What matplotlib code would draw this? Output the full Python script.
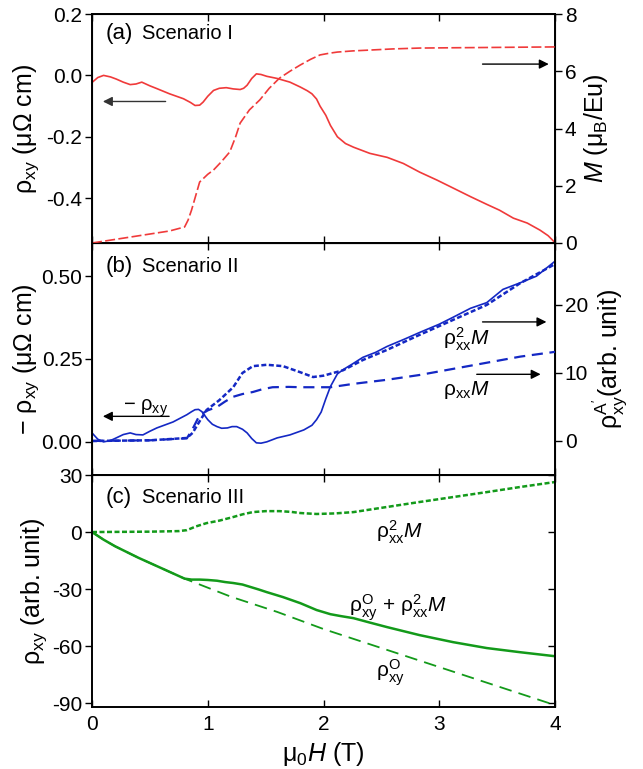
import matplotlib
matplotlib.use('Agg')
import matplotlib.pyplot as plt
import numpy as np

plt.rcParams['font.family'] = ['Liberation Sans', 'DejaVu Sans']
plt.rcParams['mathtext.fontset'] = 'custom'
plt.rcParams['mathtext.rm'] = 'Liberation Sans'
plt.rcParams['mathtext.it'] = 'Liberation Sans:italic'
plt.rcParams['axes.unicode_minus'] = False
plt.rcParams['font.size'] = 15

RED = '#f03a3a'
BLUE = '#1428c4'
GREEN = '#139a1a'

# (a) Scenario I: rho_xy (left) and M (right)
h_rxy_a = [0.0, 0.05, 0.1, 0.16, 0.21, 0.27, 0.33, 0.38, 0.43, 0.5, 0.56, 0.67, 0.79, 0.85,
           0.89, 0.93, 0.96, 1.0, 1.05, 1.1, 1.16, 1.22, 1.28, 1.31, 1.34, 1.38, 1.42, 1.46,
           1.51, 1.6, 1.71, 1.8, 1.86, 1.9, 1.94, 1.97, 2.02, 2.06, 2.12, 2.19, 2.26, 2.4,
           2.55, 2.69, 2.83, 2.98, 3.12, 3.27, 3.41, 3.52, 3.64, 3.76, 3.87, 3.94, 3.98, 4.0]
rxy_a = [-0.023, -0.007, 0.0, -0.005, -0.012, -0.022, -0.03, -0.028, -0.022, -0.034, -0.043,
         -0.06, -0.076, -0.088, -0.098, -0.097, -0.087, -0.068, -0.049, -0.042, -0.04,
         -0.044, -0.046, -0.042, -0.032, -0.01, 0.005, 0.003, -0.003, -0.01, -0.022, -0.038,
         -0.05, -0.06, -0.077, -0.1, -0.13, -0.163, -0.2, -0.222, -0.234, -0.254, -0.267,
         -0.287, -0.315, -0.341, -0.367, -0.395, -0.42, -0.439, -0.465, -0.481, -0.504,
         -0.522, -0.537, -0.546]
h_m = [0.0, 0.67, 0.8, 0.83, 0.86, 0.93, 1.0, 1.05, 1.12, 1.19, 1.24, 1.28, 1.36, 1.45,
       1.53, 1.62, 1.71, 1.8, 1.89, 1.97, 2.05, 2.12, 2.25, 2.4, 2.6, 2.83, 3.1, 3.41, 3.7,
       4.0]
m_a = [0.0, 0.42, 0.56, 0.8, 1.15, 2.13, 2.4, 2.55, 2.85, 3.18, 3.7, 4.19, 4.65, 5.0, 5.4,
       5.76, 6.0, 6.22, 6.42, 6.57, 6.63, 6.67, 6.71, 6.74, 6.78, 6.81, 6.82, 6.83, 6.84,
       6.85]

# (b) Scenario II: -rho_xy (left), rho_xx^2 M and rho_xx M (right)
h_rxy_b = [0.0, 0.05, 0.1, 0.16, 0.21, 0.27, 0.33, 0.38, 0.44, 0.5, 0.56, 0.7, 0.82, 0.86,
           0.89, 0.92, 0.95, 1.0, 1.04, 1.08, 1.12, 1.17, 1.21, 1.25, 1.3, 1.34, 1.38, 1.42,
           1.46, 1.51, 1.6, 1.71, 1.83, 1.9, 1.94, 1.98, 2.02, 2.06, 2.12, 2.17, 2.25, 2.34,
           2.45, 2.55, 2.7, 2.83, 3.0, 3.12, 3.27, 3.41, 3.55, 3.7, 3.84, 4.0]
rxy_b = [0.027, 0.008, 0.0, 0.004, 0.012, 0.022, 0.027, 0.022, 0.021, 0.032, 0.042, 0.06,
         0.082, 0.091, 0.097, 0.098, 0.091, 0.067, 0.053, 0.046, 0.041, 0.042, 0.046,
         0.046, 0.038, 0.027, 0.01, -0.003, -0.004, 0.0, 0.012, 0.021, 0.036, 0.05, 0.067,
         0.09, 0.13, 0.167, 0.205, 0.218, 0.235, 0.255, 0.27, 0.288, 0.31, 0.33, 0.355,
         0.376, 0.403, 0.42, 0.46, 0.48, 0.5, 0.545]
h_p2m = [0.0, 0.5, 0.82, 0.87, 0.91, 0.99, 1.1, 1.22, 1.3, 1.39, 1.51, 1.65, 1.8, 1.91,
         2.0, 2.17, 2.34, 2.55, 2.83, 3.12, 3.41, 3.7, 4.0]
p2m_b = [0.0, 0.1, 0.44, 1.2, 2.35, 4.56, 6.0, 7.9, 10.0, 11.0, 11.2, 11.0, 10.1, 9.4,
         9.6, 10.4, 11.9, 13.4, 15.6, 17.8, 20.0, 23.2, 26.0]
h_pm = [0.0, 0.5, 0.82, 0.87, 0.93, 1.0, 1.08, 1.15, 1.22, 1.3, 1.39, 1.47, 1.56, 1.7,
        1.8, 2.06, 2.26, 2.55, 2.83, 3.12, 3.41, 3.7, 4.0]
pm_b = [0.0, 0.1, 0.4, 1.8, 3.8, 4.5, 5.0, 5.8, 6.5, 6.9, 7.2, 7.6, 7.9, 7.95, 7.9, 7.9,
        8.4, 9.0, 9.7, 10.6, 11.5, 12.4, 13.1]

# (c) Scenario III
h_p2m_c = [0.0, 0.5, 0.75, 0.82, 0.9, 0.99, 1.1, 1.22, 1.3, 1.39, 1.5, 1.62, 1.72, 1.8,
           1.94, 2.1, 2.26, 2.55, 2.83, 3.12, 3.41, 3.7, 4.0]
p2m_c = [0.0, 0.2, 0.5, 1.0, 3.0, 4.7, 6.0, 7.9, 9.3, 10.5, 11.0, 11.0, 10.6, 10.0, 9.5,
         9.8, 10.5, 13.2, 15.8, 18.4, 21.0, 23.7, 26.3]
h_o = [0.0, 0.1, 0.2, 0.4, 0.6, 0.8, 1.2, 1.6, 2.0, 2.4, 2.8, 3.2, 3.6, 4.0]
rho_o = [0.0, -4.0, -7.5, -13.5, -19.0, -24.5, -34.0, -42.0, -51.0, -59.0, -67.0, -75.0,
         -83.0, -91.0]
h_sum = [0.0, 0.1, 0.2, 0.4, 0.6, 0.8, 0.86, 0.93, 1.0, 1.08, 1.15, 1.22, 1.3, 1.37, 1.44,
         1.51, 1.65, 1.8, 1.94, 2.06, 2.15, 2.26, 2.4, 2.55, 2.83, 3.12, 3.41, 3.7, 4.0]
rho_sum = [0.0, -4.0, -7.5, -13.5, -19.0, -24.5, -25.0, -25.0, -25.2, -25.6, -26.3, -26.8,
           -27.6, -28.9, -30.2, -31.6, -34.2, -37.4, -41.0, -43.2, -44.2, -45.3, -47.6,
           -50.0, -54.2, -57.9, -61.0, -63.2, -65.3]

W, H = 643, 769
fig = plt.figure(figsize=(W / 100, H / 100), dpi=100)
L, R = 92, 555


def rect(top, bottom):
    return [L / W, 1 - bottom / H, (R - L) / W, (bottom - top) / H]


def style(ax):
    ax.set_xlim(0, 4)
    ax.set_xticks([0, 1, 2, 3, 4])
    ax.tick_params(axis='x', direction='in', top=True, bottom=True, length=5, width=1)
    ax.tick_params(axis='y', direction='out', length=5, width=1, pad=2)
    for s in ax.spines.values():
        s.set_linewidth(1.4)


ax1 = fig.add_axes(rect(14, 243))
ax2 = fig.add_axes(rect(243, 475))
ax3 = fig.add_axes(rect(475, 707))

arrow = dict(arrowstyle='-|>', color='black', lw=1, mutation_scale=14)

# panel a
style(ax1)
ax1.plot(h_rxy_a, rxy_a, color=RED, lw=1.2)
ax1.set_ylim(-0.546, 0.2)
ax1.set_yticks([-0.4, -0.2, 0.0, 0.2])
ax1.set_yticklabels(['-0.4', '-0.2', '0.0', '0.2'])
ax1.set_xticklabels([])
ax1.set_ylabel(r'ρ$_\mathrm{xy}$ (μΩ cm)', fontsize=18, labelpad=4)
ax1r = ax1.twinx()
ax1r.plot(h_m, m_a, color=RED, lw=1.2, dashes=(6, 2))
ax1r.set_ylim(0, 8)
ax1r.set_yticks([0, 2, 4, 6, 8])
ax1r.tick_params(axis='y', direction='out', length=5, width=1, pad=2)
ax1r.set_ylabel(r'$M$ (μ$_\mathrm{B}$/Eu)', fontsize=18, labelpad=4)
ax1.text(0.12, 0.137, '(a)', fontsize=16, va='center')
ax1.text(0.43, 0.137, 'Scenario I', fontsize=14.5, va='center')
ax1.annotate('', xy=(0.07, -0.085), xytext=(0.66, -0.085),
             arrowprops=dict(arrow, color='#333333'))
ax1r.annotate('', xy=(3.97, 6.25), xytext=(3.35, 6.25), arrowprops=arrow)

# panel b
style(ax2)
ax2.plot(h_rxy_b, rxy_b, color=BLUE, lw=1.2)
ax2.set_ylim(-0.1, 0.6)
ax2.set_yticks([0.0, 0.25, 0.5])
ax2.set_yticklabels(['0.00', '0.25', '0.50'])
ax2.set_xticklabels([])
ax2.set_ylabel(r'− ρ$_\mathrm{xy}$ (μΩ cm)', fontsize=18, labelpad=0)
ax2r = ax2.twinx()
ax2r.plot(h_p2m, p2m_b, color=BLUE, lw=1.8, dashes=(2, 1))
ax2r.plot(h_pm, pm_b, color=BLUE, lw=1.6, dashes=(5, 3))
ax2r.set_ylim(-5, 29.1)
ax2r.set_yticks([0, 10, 20])
ax2r.tick_params(axis='y', direction='out', length=5, width=1, pad=2)
ax2r.set_ylabel(r'ρ$_\mathrm{xy}^\mathrm{A^{\prime}}$(arb. unit)', fontsize=18, labelpad=2)
ax2.text(0.12, 0.53, '(b)', fontsize=16, va='center')
ax2.text(0.43, 0.53, 'Scenario II', fontsize=14.5, va='center')
ax2.text(0.27, 0.1, r'− ρ$_\mathrm{xy}$', fontsize=14.5, va='center')
ax2.annotate('', xy=(0.07, 0.077), xytext=(0.69, 0.077), arrowprops=arrow)
ax2r.text(3.03, 15.0, r'$\mathrm{\rho}^2_\mathrm{xx}M$', fontsize=15, va='center')
ax2r.text(3.03, 7.5, r'$\mathrm{\rho}_\mathrm{xx}M$', fontsize=15, va='center')
ax2r.annotate('', xy=(3.95, 17.5), xytext=(3.35, 17.5), arrowprops=arrow)
ax2r.annotate('', xy=(3.9, 9.8), xytext=(3.3, 9.8), arrowprops=arrow)

# panel c
style(ax3)
ax3.plot(h_p2m_c, p2m_c, color=GREEN, lw=1.8, dashes=(2, 1))
ax3.plot(h_o, rho_o, color=GREEN, lw=1.3, dashes=(7, 4))
ax3.plot(h_sum, rho_sum, color=GREEN, lw=1.8)
ax3.set_ylim(-92, 30)
ax3.set_yticks([-90, -60, -30, 0, 30])
ax3.tick_params(axis='y', right=True, labelright=False)
ax3.set_ylabel(r'ρ$_\mathrm{xy}$ (arb. unit)', fontsize=18, labelpad=2)
ax3.set_xlabel(r'μ$_0H$ (T)', fontsize=18, labelpad=4)
ax3.tick_params(axis='x', pad=6)
for t in ax3.yaxis.get_ticklines()[1::2]:
    t.set_marker(matplotlib.lines.TICKLEFT)
ax3.text(0.12, 18, '(c)', fontsize=16, va='center')
ax3.text(0.43, 18, 'Scenario III', fontsize=14.5, va='center')
ax3.text(2.45, 0, r'$\mathrm{\rho}^2_\mathrm{xx}M$', fontsize=15, va='center')
ax3.text(2.22, -40, r'$\mathrm{\rho}^\mathrm{O}_\mathrm{xy}$ + $\mathrm{\rho}^2_\mathrm{xx}M$',
         fontsize=15, va='center')
ax3.text(2.45, -74, r'$\mathrm{\rho}^\mathrm{O}_\mathrm{xy}$', fontsize=15, va='center')

fig.savefig('out.png', dpi=100)
